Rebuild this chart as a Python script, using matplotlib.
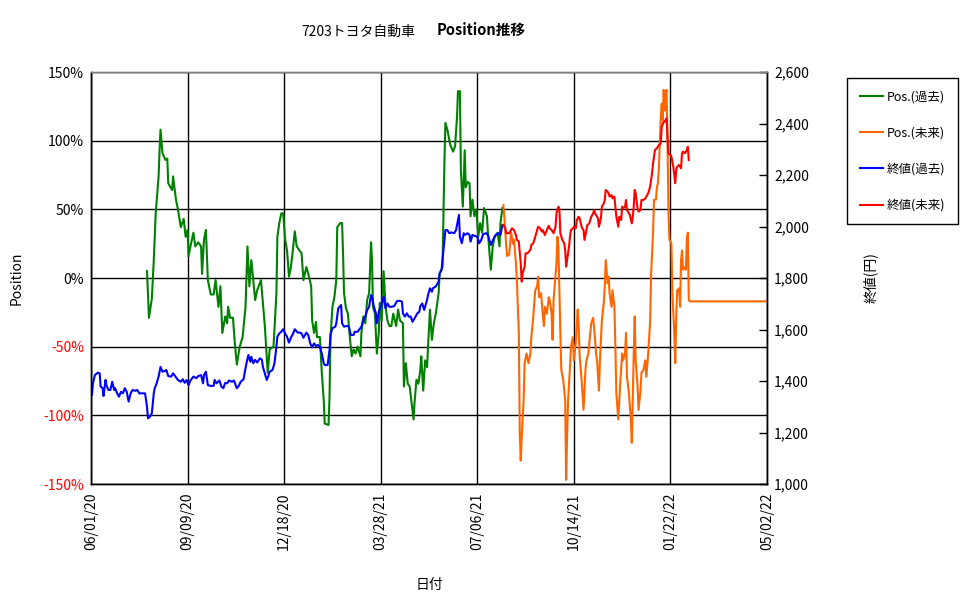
import numpy as np
import pandas as pd
import matplotlib
matplotlib.use("Agg")
import matplotlib.pyplot as plt
import matplotlib.dates as mdates
from matplotlib.ticker import FuncFormatter

plt.rcParams['font.family'] = ['Noto Sans CJK JP', 'DejaVu Sans']

START = pd.Timestamp("2020-06-01")

# Position (past) - days from 2020-06-01, percent
pos_past_day = [58, 60, 63, 65, 67, 70, 71, 72, 74, 77, 79, 80, 84, 85, 88, 90, 93, 96, 98, 100,
                101, 103, 106, 108, 111, 114, 115, 117, 119, 121, 124, 127, 129, 132, 134, 136, 139,
                141, 142, 144, 147, 149, 151, 154, 157, 160, 162, 164, 166, 170, 172, 176, 180, 183,
                185, 189, 192, 193, 195, 197, 199, 201, 203, 205, 207, 209, 211, 213, 216, 218, 220,
                223, 225, 228, 229, 231, 233, 234, 237, 239, 241, 242, 246, 247, 248, 250, 252, 254,
                255, 258, 260, 261, 262, 264, 266, 268, 270, 272, 274, 276, 279, 280, 282, 284, 286,
                288, 290, 291, 292, 294, 296, 298, 299, 301, 303, 305, 307, 309, 311, 313, 316, 318,
                320, 323, 324, 326, 328, 330, 332, 334, 335, 337, 339, 341, 342, 344, 346, 348, 349,
                351, 353, 355, 357, 360, 361, 364, 365, 366, 367, 369, 372, 375, 377, 379, 380, 382,
                383, 385, 387, 388, 390, 392, 393, 395, 397, 399, 401, 403, 405, 407, 410, 411, 414,
                416, 418, 421, 423, 424, 426]
pos_past = [5, -29, -15, 13, 47, 74, 93, 108, 91, 86, 87, 69, 64, 74, 57, 50, 37, 43, 30, 35,
            16, 23, 33, 23, 26, 23, 3, 28, 35, -1.5, -12, -12, -1.5, -21, -6, -40, -28,
            -33, -21, -29, -29, -48, -63, -50, -43, -21, 23, -6, 13, -16, -9, -1.5, -35, -69,
            -52, -50, -11, 30, 40, 47, 47, 28, 20, 1, 8, 20, 34, 23, 20, 18, -1.5,
            8, 3, -6, -31, -40, -32, -43, -43, -69, -89, -106, -107, -86, -43, -21, -14, -1.5,
            37, 40, 40, 18, -11, -22, -26, -43, -57, -52, -55, -50, -57, -40, -28, -33, -16,
            -11, 26, 13, -21, -26, -55, -40, -18, -31, 5, -21, -31, -35, -35, -26, -35, -23,
            -31, -33, -79, -62, -77, -79, -91, -103, -91, -74, -77, -67, -57, -82, -60, -65, -50,
            -23, -45, -33, -26, -11, 3, 8, 47, 86, 113, 108, 97, 92, 96, 117, 136, 136,
            79, 52, 93, 66, 70, 69, 45, 57, 45, 50, 30, 40, 33, 51, 45, 33, 6,
            23, 30, 33, 23, 40, 51]

# Position (future)
pos_fut_day = [427, 428, 430, 431, 433, 435, 437, 438, 440, 441, 443, 444, 445, 446, 448, 449, 451,
               453, 455, 456, 458, 460, 462, 463, 464, 466, 468, 469, 470, 472, 474, 475, 477, 478,
               479, 482, 483, 484, 486, 487, 489, 491, 492, 493, 494, 496, 497, 499, 500, 502, 504,
               505, 506, 508, 510, 512, 513, 515, 517, 518, 520, 522, 523, 524, 526, 527, 529, 531,
               532, 533, 535, 536, 537, 539, 540, 542, 543, 544, 546, 548, 550, 551, 553, 554, 555,
               557, 559, 560, 562, 563, 564, 566, 567, 569, 570, 572, 574, 575, 577, 579, 580, 582,
               583, 585, 586, 587, 588, 589, 590, 591, 592, 593, 594, 595, 596, 597, 598, 599, 601,
               602, 604, 605, 606, 607, 609, 610, 611, 612, 613, 615, 616, 617, 618, 619, 620, 700]
pos_fut = [53, 45, 23, 16, 17, 33, 25, 28, 11, -1.5, -40, -113, -133, -116, -89, -62, -55,
           -62, -55, -43, -28, -9, -6, 1, -14, -11, -28, -35, -21, -26, -14, -16, -26, -45,
           -16, 11, 30, 23, -40, -67, -74, -89, -147, -116, -89, -65, -50, -43, -60, -47, -23,
           -35, -57, -74, -96, -67, -60, -55, -40, -33, -29, -45, -55, -60, -82, -60, -31, -18,
           -6, 13, -4, 1, -11, -21, -9, -21, -50, -84, -103, -77, -55, -60, -55, -40, -72,
           -84, -103, -120, -55, -28, -60, -79, -96, -82, -69, -67, -60, -72, -55, -31, 3, 33,
           57, 57, 66, 69, 79, 98, 117, 127, 115, 137, 122, 134, 137, 98, 47, 28, 25,
           -11, -40, -62, -28, -9, -7.5, -21, 13, 20, 6, 8, 6, 28, 33, -16, -17, -17]

# Close (past), yen
close_past_day = [1, 2, 4, 7, 9, 10, 12, 13, 15, 16, 18, 20, 22, 24, 25, 27, 29, 31, 33, 35, 37,
                  39, 41, 43, 46, 48, 50, 52, 56, 58, 59, 61, 63, 65, 66, 68, 70, 72, 74, 77, 78,
                  80, 83, 85, 88, 90, 93, 95, 97, 99, 101, 103, 106, 109, 111, 114, 116, 117, 119,
                  121, 124, 127, 128, 130, 133, 135, 137, 139, 141, 143, 146, 148, 151, 153, 155,
                  158, 159, 161, 163, 165, 166, 168, 170, 172, 175, 177, 178, 180, 182, 184, 185,
                  188, 190, 192, 193, 195, 197, 199, 201, 203, 205, 207, 209, 211, 214, 216, 218,
                  220, 223, 225, 227, 229, 231, 233, 235, 237, 239, 241, 242, 245, 247, 248, 250,
                  253, 254, 256, 259, 260, 262, 265, 267, 269, 272, 273, 276, 278, 280, 282, 284,
                  286, 288, 290, 291, 293, 295, 296, 298, 300, 302, 303, 305, 307, 309, 311, 314,
                  316, 317, 320, 322, 323, 325, 327, 329, 331, 333, 335, 338, 340, 341, 343, 345,
                  348, 349, 351, 353, 354, 357, 360, 361, 363, 365, 367, 369, 371, 373, 376, 378,
                  380, 381, 382, 384, 386, 387, 390, 392, 393, 395, 398, 400, 402, 404, 406, 409,
                  411, 413, 414, 417, 419, 422, 424, 425, 426]
close_past = [1346, 1391, 1423, 1432, 1430, 1378, 1372, 1342, 1404, 1384, 1365, 1365, 1397, 1365,
              1372, 1352, 1339, 1358, 1352, 1372, 1358, 1320, 1352, 1365, 1362, 1365, 1352, 1352,
              1352, 1300, 1255, 1261, 1275, 1352, 1372, 1391, 1417, 1455, 1436, 1440, 1443, 1419,
              1417, 1430, 1414, 1404, 1397, 1407, 1393, 1404, 1384, 1402, 1417, 1411, 1419, 1423,
              1391, 1423, 1436, 1384, 1381, 1381, 1404, 1391, 1402, 1378, 1372, 1393, 1391, 1402,
              1397, 1402, 1372, 1381, 1397, 1407, 1430, 1469, 1501, 1475, 1494, 1469, 1482, 1472,
              1488, 1482, 1455, 1430, 1404, 1423, 1436, 1443, 1469, 1533, 1572, 1585, 1591, 1601,
              1585, 1572, 1549, 1568, 1582, 1601, 1588, 1588, 1585, 1568, 1588, 1578, 1546, 1531,
              1546, 1536, 1540, 1533, 1507, 1469, 1462, 1462, 1520, 1579, 1605, 1611, 1624, 1682,
              1695, 1624, 1611, 1614, 1611, 1579, 1579, 1591, 1591, 1601, 1611, 1637, 1650, 1676,
              1688, 1734, 1727, 1688, 1663, 1624, 1669, 1688, 1715, 1727, 1682, 1701, 1688, 1688,
              1691, 1704, 1711, 1711, 1708, 1663, 1650, 1663, 1650, 1650, 1630, 1643, 1663, 1669,
              1691, 1701, 1676, 1715, 1734, 1760, 1747, 1760, 1767, 1786, 1818, 1831, 1909, 1986,
              1986, 1974, 1977, 1974, 1986, 2025, 2045, 1960, 1935, 1974, 1967, 1974, 1967, 1941,
              1967, 1963, 1960, 1935, 1947, 1970, 1974, 1967, 1941, 1928, 1954, 1967, 1974, 1967,
              1986, 2006]

# Close (future)
close_fut_day = [427, 429, 430, 433, 436, 438, 440, 441, 443, 445, 446, 447, 449, 450, 452, 455,
                 456, 458, 460, 462, 463, 465, 467, 468, 470, 472, 474, 475, 477, 479, 481, 482,
                 484, 485, 486, 488, 490, 491, 492, 493, 495, 496, 497, 499, 500, 502, 503, 505,
                 506, 508, 510, 511, 513, 514, 516, 518, 520, 521, 522, 524, 525, 526, 528, 529,
                 531, 532, 533, 535, 536, 537, 539, 540, 542, 543, 544, 546, 547, 549, 550, 551,
                 553, 554, 555, 557, 558, 560, 561, 562, 563, 564, 566, 567, 569, 570, 572, 574,
                 575, 577, 579, 581, 582, 584, 586, 588, 590, 591, 593, 594, 596, 597, 598, 600,
                 601, 603, 605, 606, 607, 609, 611, 612, 613, 615, 617, 618, 619]
close_fut = [2006, 1993, 1974, 1974, 1993, 1986, 1967, 1948, 1941, 1857, 1786, 1818, 1844, 1896,
             1896, 1909, 1928, 1935, 1960, 1986, 1999, 1993, 1980, 1986, 1967, 1986, 2003, 1993,
             1986, 1974, 1999, 2051, 2077, 2070, 1974, 1948, 1935, 1909, 1844, 1870, 1922, 1960,
             1986, 1993, 1999, 1993, 2025, 2038, 2032, 1999, 1986, 1948, 1986, 2006, 2012, 2038,
             2051, 2064, 2051, 2038, 2032, 1999, 2032, 2077, 2090, 2103, 2142, 2135, 2129, 2116,
             2122, 2109, 2116, 2077, 2038, 1999, 2038, 2025, 2077, 2070, 2077, 2103, 2064, 2051,
             2045, 2012, 2038, 2077, 2142, 2129, 2070, 2058, 2064, 2103, 2103, 2109, 2116, 2129,
             2155, 2207, 2245, 2297, 2304, 2316, 2323, 2387, 2407, 2407, 2420, 2349, 2284, 2278,
             2271, 2232, 2168, 2220, 2232, 2239, 2226, 2284, 2291, 2284, 2297, 2310, 2258]

tick_days = [0, 100, 200, 300, 400, 500, 600, 700]
pos_ticks = [-150, -100, -50, 0, 50, 100, 150]
price_ticks = [1000, 1200, 1400, 1600, 1800, 2000, 2200, 2400, 2600]


def to_dates(days):
    return START + pd.to_timedelta(days, unit="D")


fig = plt.figure(figsize=(9.75, 5.99), dpi=100)
ax = fig.add_axes([91 / 975, 115 / 599, 676 / 975, 412 / 599])
ax2 = ax.twinx()

ax.plot(to_dates(pos_past_day), pos_past, color="#008000", lw=1.5, label="Pos.(過去)")
ax.plot(to_dates(pos_fut_day), pos_fut, color="#FF6600", lw=1.5, label="Pos.(未来)")
ax2.plot(to_dates(close_past_day), close_past, color="#0000FF", lw=1.5, label="終値(過去)")
ax2.plot(to_dates(close_fut_day), close_fut, color="#FF0000", lw=1.5, label="終値(未来)")

ax.set_xlim(to_dates([0])[0], to_dates([700])[0])
ax.set_ylim(-150, 150)
ax2.set_ylim(1000, 2600)

ax.set_xticks(to_dates(tick_days))
ax.xaxis.set_major_formatter(mdates.DateFormatter("%m/%d/%y"))
for lab in ax.get_xticklabels():
    lab.set_rotation(90)
ax.set_yticks(pos_ticks)
ax.set_yticklabels([f"{v}%" for v in pos_ticks])
for lab, v in zip(ax.get_yticklabels(), pos_ticks):
    lab.set_color("red" if v < 0 else "black")
ax2.set_yticks(price_ticks)
ax2.yaxis.set_major_formatter(FuncFormatter(lambda v, p: f"{int(v):,}"))

ax.grid(True, color="black", lw=1)
ax.tick_params(axis="both", direction="in", length=0, labelsize=10, pad=5)
ax.tick_params(axis="x", pad=6)
ax2.tick_params(axis="y", direction="in", length=6, width=1, labelsize=10, pad=5)
for a in (ax, ax2):
    for s in a.spines.values():
        s.set_color("black")
        s.set_linewidth(1)
    a.spines["top"].set_color("#808080")

ax.set_xlabel("日付", fontsize=10, labelpad=20)
ax.set_ylabel("Position", fontsize=10, labelpad=14)
ax2.set_ylabel("終値(円)", fontsize=10, rotation=90, labelpad=39)

fig.text(415 / 975, 1 - 32 / 599, "7203トヨタ自動車", ha="right", va="center", fontsize=10)
fig.text(437 / 975, 1 - 30 / 599, "Position推移", ha="left", va="center", fontsize=10.5,
         fontweight="bold")

h1, l1 = ax.get_legend_handles_labels()
h2, l2 = ax2.get_legend_handles_labels()
leg = fig.legend(h1 + h2, l1 + l2, loc="upper left", bbox_to_anchor=(847 / 975, 1 - 78 / 599),
                 borderaxespad=0, fontsize=9, frameon=True, fancybox=False, edgecolor="black",
                 framealpha=1, labelspacing=1.85, handlelength=1.9, handletextpad=0.3,
                 borderpad=1.0)
leg.get_frame().set_linewidth(1)

fig.savefig("out.png", dpi=100)
